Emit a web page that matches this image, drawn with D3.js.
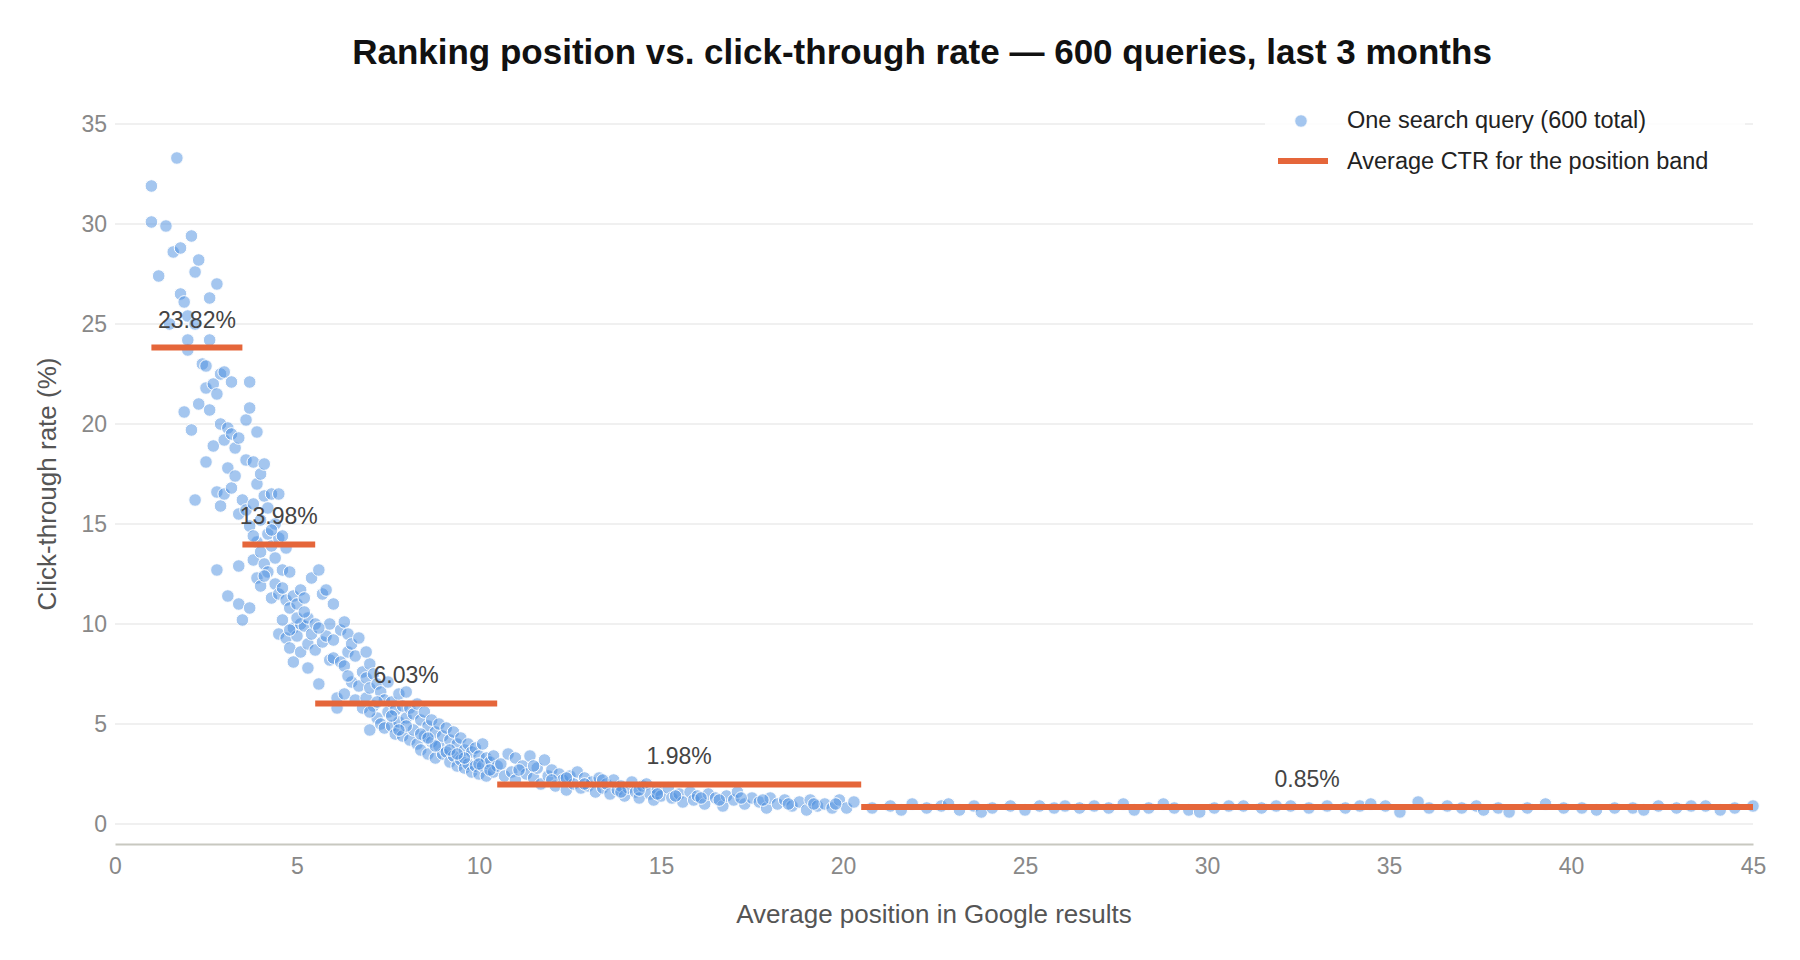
<!DOCTYPE html>
<html><head><meta charset="utf-8">
<script src="https://cdn.jsdelivr.net/npm/d3@7"></script>
<style>body{margin:0;background:#fff;font-family:"Helvetica Neue",Arial,"Liberation Sans",sans-serif;}</style>
</head><body><svg id="c" width="1800" height="960"></svg>
<script>
const xTicks=[0,5,10,15,20,25,30,35,40,45];
const yTicks=[0,5,10,15,20,25,30,35];
const bandStart=[1,3.5,5.5,10.5,20.5];
const bandEnd=[3.5,5.5,10.5,20.5,45];
const bandAvg=[23.82,13.98,6.03,1.98,0.85];
const queryPts="1.0,31.9 1.0,30.1 1.2,27.4 1.4,29.9 1.5,25.0 1.6,28.6 1.7,33.3 1.8,28.8 1.8,26.5 1.9,26.1 2.0,25.4 2.0,23.7 1.9,20.6 2.0,24.2 2.1,29.4 2.1,19.7 2.2,27.6 2.2,25.0 2.3,28.2 2.3,21.0 2.2,16.2 2.4,23.0 2.5,22.9 2.5,21.8 2.5,18.1 2.6,26.3 2.6,24.2 2.6,20.7 2.7,22.0 2.7,18.9 2.8,27.0 2.8,21.5 2.8,16.6 2.8,12.7 2.9,22.5 2.9,20.0 2.9,15.9 3.0,22.6 3.0,19.2 3.0,16.5 3.1,19.8 3.1,17.8 3.1,11.4 3.2,22.1 3.2,19.5 3.2,16.8 3.3,18.8 3.3,17.4 3.4,19.3 3.4,15.5 3.4,12.9 3.4,11.0 3.5,16.2 3.5,10.2 3.6,18.2 3.6,15.7 3.6,20.2 3.7,22.1 3.7,20.8 3.7,14.9 3.7,10.8 3.8,18.1 3.8,16.0 3.8,13.2 3.9,19.6 3.9,17.0 3.9,14.1 3.9,12.3 4.0,17.5 4.0,15.2 4.0,13.6 4.0,11.9 4.1,18.0 4.1,16.4 4.1,13.0 4.2,15.8 4.2,14.5 4.2,12.6 4.3,16.5 4.3,13.9 4.3,11.3 4.4,15.0 4.4,13.3 4.4,12.0 4.5,16.5 4.5,14.3 4.5,11.5 4.5,9.5 4.6,14.4 4.6,12.7 4.6,10.2 4.7,13.8 4.7,11.2 4.7,9.3 4.8,12.6 4.8,10.8 4.8,8.8 4.9,11.4 4.9,9.8 4.9,8.1 5.0,11.0 5.0,9.4 5.1,11.7 5.1,10.0 5.1,8.6 5.2,11.3 5.2,9.9 5.3,10.3 5.3,9.0 5.4,12.3 5.4,9.5 5.5,10.0 5.5,8.7 5.6,12.7 5.6,7.0 5.7,11.5 5.7,9.1 5.8,11.7 5.8,9.4 5.9,10.0 5.9,8.2 6.0,11.0 6.0,8.3 6.1,6.3 6.1,5.8 6.2,9.7 6.2,8.1 6.3,10.1 6.3,7.9 6.3,6.5 6.4,9.5 6.4,8.6 6.5,9.0 6.5,7.1 6.6,8.4 6.6,6.2 6.7,9.3 6.7,6.9 6.8,7.6 6.8,5.8 6.9,7.3 6.9,6.3 7.0,8.0 7.0,6.8 7.0,4.7 7.1,7.5 7.1,5.9 7.2,7.0 7.2,5.3 7.3,6.6 7.3,5.0 7.4,6.2 7.4,4.8 7.5,7.1 7.5,5.6 7.6,6.1 7.6,4.9 7.7,5.7 7.7,4.5 7.8,6.5 7.8,5.1 7.9,5.9 7.9,4.4 8.0,6.6 8.0,5.3 8.1,5.8 8.1,4.2 8.2,5.5 8.2,4.7 8.3,6.0 8.3,4.0 8.4,5.2 8.4,3.7 8.5,5.6 8.5,4.4 8.6,4.9 8.6,3.5 8.7,5.2 8.7,4.1 8.8,4.6 8.8,3.3 8.9,5.0 8.9,3.9 9.0,4.4 9.0,3.5 9.1,4.8 9.1,3.6 9.2,4.2 9.2,3.1 9.3,4.6 9.3,3.4 9.4,4.0 9.4,2.9 9.5,4.3 9.5,3.2 9.6,3.7 9.6,2.8 9.7,4.0 9.7,3.0 9.8,3.6 9.8,2.6 9.9,3.8 9.9,2.9 10.0,3.4 10.0,2.5 10.1,4.0 10.1,2.9 10.2,3.3 10.2,2.4 10.3,3.1 10.4,3.4 10.4,2.6 10.5,2.9 6.4,7.4 6.9,8.6 7.2,6.1 7.6,5.4 8.0,4.9 8.4,4.5 8.8,3.9 9.2,3.7 9.6,3.3 10.0,3.0 5.3,7.8 5.0,10.3 4.6,11.8 4.3,14.7 4.1,12.4 3.8,14.4 5.2,10.6 4.8,9.7 5.6,9.8 6.0,9.2 7.0,5.6 7.8,4.7 8.6,4.3 9.4,3.5 10.3,2.7 10.6,3.0 10.7,2.4 10.8,3.5 10.9,2.6 11.0,3.3 11.0,2.2 11.2,2.9 11.3,2.5 11.4,3.4 11.5,2.3 11.6,2.8 11.7,2.0 11.8,3.2 11.9,2.4 12.0,2.7 12.1,1.9 12.2,2.5 12.3,2.2 12.4,1.7 12.5,2.4 12.6,2.0 12.7,2.6 12.8,1.8 12.9,2.3 13.0,1.9 13.1,2.1 13.2,1.6 13.3,2.3 13.4,1.8 13.5,2.0 13.6,1.5 13.7,2.2 13.8,1.7 13.9,1.9 14.0,1.4 14.1,1.8 14.2,2.1 14.3,1.6 14.4,1.3 14.5,1.9 14.6,2.0 14.7,1.5 14.8,1.2 14.9,1.7 15.0,1.4 15.2,1.8 15.3,1.3 15.5,1.5 15.6,1.1 15.8,1.6 15.9,1.2 16.0,1.4 16.2,1.0 16.3,1.5 16.5,1.3 16.7,0.9 16.8,1.4 17.0,1.2 17.1,1.6 17.3,1.0 17.5,1.3 17.7,1.1 17.9,0.8 18.0,1.3 18.2,1.0 18.4,1.2 18.6,0.9 18.8,1.1 19.0,0.7 19.1,1.2 19.3,0.9 19.5,1.0 19.7,0.8 19.9,1.2 20.1,0.8 20.3,1.1 11.1,2.7 11.5,2.9 12.0,2.2 12.4,2.3 12.9,2.0 13.4,2.2 13.9,1.6 14.4,1.7 14.9,1.5 15.4,1.4 16.1,1.3 16.6,1.2 17.2,1.3 17.8,1.2 18.5,1.0 19.2,1.0 19.8,1.0 20.8,0.8 21.3,0.9 21.6,0.7 21.9,1.0 22.3,0.8 22.7,0.9 22.9,1.0 23.2,0.7 23.6,0.9 23.8,0.6 24.1,0.8 24.6,0.9 25.0,0.7 25.4,0.9 25.8,0.8 26.1,0.9 26.5,0.8 26.9,0.9 27.3,0.8 27.7,1.0 28.0,0.7 28.4,0.8 28.8,1.0 29.1,0.8 29.5,0.7 29.8,0.6 30.2,0.8 30.6,0.9 31.0,0.9 31.5,0.8 31.9,0.9 32.3,0.9 32.8,0.8 33.3,0.9 33.8,0.8 34.2,0.9 34.5,1.0 34.9,0.9 35.3,0.6 35.8,1.1 36.1,0.8 36.6,0.9 37.0,0.8 37.4,0.9 37.6,0.7 38.0,0.8 38.3,0.6 38.8,0.8 39.3,1.0 39.8,0.8 40.3,0.8 40.7,0.7 41.2,0.8 41.7,0.8 42.0,0.7 42.4,0.9 42.9,0.8 43.3,0.9 43.7,0.9 44.1,0.7 44.5,0.8 45.0,0.9";
const points=queryPts.split(" ").map(s=>s.split(",").map(Number));

const svg=d3.select("#c");
const L=115,R=1753,T=124,B=844;
const x=d3.scaleLinear().domain([0,45]).range([L,R]);
const y=d3.scaleLinear().domain([-1,35]).range([B,T]);

svg.append("text").attr("x",(L+R)/2-12).attr("y",64).attr("text-anchor","middle")
 .attr("font-size",35).attr("font-weight","bold").attr("fill","#111")
 .text("Ranking position vs. click-through rate — 600 queries, last 3 months");

svg.append("g").selectAll("line").data(yTicks).join("line")
 .attr("x1",L).attr("x2",R).attr("y1",d=>y(d)).attr("y2",d=>y(d)).attr("stroke","#e2e2e2").attr("stroke-width",1.2);

const ya=svg.append("g").attr("transform",`translate(${L},0)`).call(d3.axisLeft(y).tickValues(yTicks).tickSize(0).tickPadding(8));
ya.select(".domain").remove();
ya.selectAll("text").attr("font-size",23).attr("fill","#888").attr("font-family","inherit");

const xa=svg.append("g").attr("transform",`translate(0,${B})`).call(d3.axisBottom(x).tickValues(xTicks).tickSize(0).tickPadding(14));
xa.select(".domain").attr("stroke","#c8c8c0").attr("stroke-width",2);
xa.selectAll("text").attr("font-size",23).attr("fill","#888").attr("font-family","inherit");

svg.append("text").attr("x",(L+R)/2).attr("y",923).attr("text-anchor","middle").attr("font-size",26).attr("fill","#555").text("Average position in Google results");
svg.append("text").attr("transform",`translate(56,${(T+B)/2}) rotate(-90)`).attr("text-anchor","middle").attr("font-size",26).attr("fill","#555").text("Click-through rate (%)");

svg.append("g").selectAll("circle").data(points).join("circle")
 .attr("cx",d=>x(d[0])).attr("cy",d=>y(d[1])).attr("r",6.3)
 .attr("fill","#4a8ee0").attr("fill-opacity",0.5).attr("stroke","#fff").attr("stroke-width",1);

const bands=bandAvg.map((v,i)=>({s:bandStart[i],e:bandEnd[i],v}));
svg.append("g").selectAll("line").data(bands).join("line")
 .attr("x1",d=>x(d.s)).attr("x2",d=>x(d.e)).attr("y1",d=>y(d.v)).attr("y2",d=>y(d.v))
 .attr("stroke","#e5663a").attr("stroke-width",6);
svg.append("g").selectAll("text").data(bands).join("text")
 .attr("x",d=>x((d.s+d.e)/2)).attr("y",d=>y(d.v)-20).attr("text-anchor","middle")
 .attr("font-size",23).attr("fill","#444").text(d=>d.v.toFixed(2)+"%");

const lg=svg.append("g");
lg.append("rect").attr("x",1265).attr("y",98).attr("width",480).attr("height",82).attr("fill","#fff").attr("fill-opacity",0.85);
lg.append("circle").attr("cx",1301).attr("cy",121).attr("r",6.3).attr("fill","#4a8ee0").attr("fill-opacity",0.5).attr("stroke","#fff");
lg.append("text").attr("x",1347).attr("y",128).attr("font-size",23.5).attr("fill","#222").text("One search query (600 total)");
lg.append("line").attr("x1",1278).attr("x2",1328).attr("y1",161).attr("y2",161).attr("stroke","#e5663a").attr("stroke-width",6);
lg.append("text").attr("x",1347).attr("y",169).attr("font-size",23.5).attr("fill","#222").text("Average CTR for the position band");
</script></body></html>
